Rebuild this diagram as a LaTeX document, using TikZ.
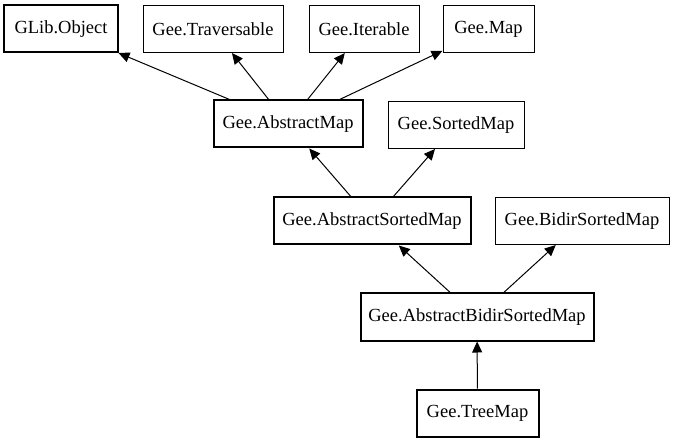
\documentclass[tikz,border=0pt]{standalone}
\usepackage{fontspec}
\setmainfont{Liberation Serif}
\usetikzlibrary{arrows.meta}
\tikzset{
  iface/.style={draw, rectangle, line width=1bp, minimum height=47bp, inner sep=0pt,
    font=\fontsize{18.5bp}{22bp}\selectfont},
  klass/.style={iface, line width=2bp},
  inh/.style={-{Triangle[length=11bp,width=10bp]}, line width=1bp}
}
\begin{document}
\begin{tikzpicture}[x=1bp,y=1bp,yscale=-1]
    \useasboundingbox (0,0) rectangle (675,443);
    % top row
    \node[klass,minimum width=113bp] (glib) at (61,29) {GLib.Object};
    \node[iface,minimum width=140bp] (trav) at (213,29) {Gee.Traversable};
    \node[iface,minimum width=110bp] (iter) at (364,29) {Gee.Iterable};
    \node[iface,minimum width=91bp] (map) at (488.5,29) {Gee.Map};
    % second row
    \node[klass,minimum width=149bp] (amap) at (288,124) {Gee.AbstractMap};
    \node[iface,minimum width=136bp] (smap) at (456,125) {Gee.SortedMap};
    % third row
    \node[klass,minimum width=197bp] (asmap) at (372,221) {Gee.AbstractSortedMap};
    \node[iface,minimum width=174bp] (bsmap) at (582,221) {Gee.BidirSortedMap};
    % bottom
    \node[klass,minimum width=233bp] (absmap) at (477,317) {Gee.AbstractBidirSortedMap};
    \node[klass,minimum width=122bp] (tree) at (477.5,413) {Gee.TreeMap};
    \draw[inh] (amap) -- (glib);
    \draw[inh] (amap) -- (trav);
    \draw[inh] (amap) -- (iter);
    \draw[inh] (amap) -- (map);
    \draw[inh] (asmap) -- (amap);
    \draw[inh] (asmap) -- (smap);
    \draw[inh] (absmap) -- (asmap);
    \draw[inh] (absmap) -- (bsmap);
    \draw[inh] (tree) -- (absmap);
\end{tikzpicture}
\end{document}
